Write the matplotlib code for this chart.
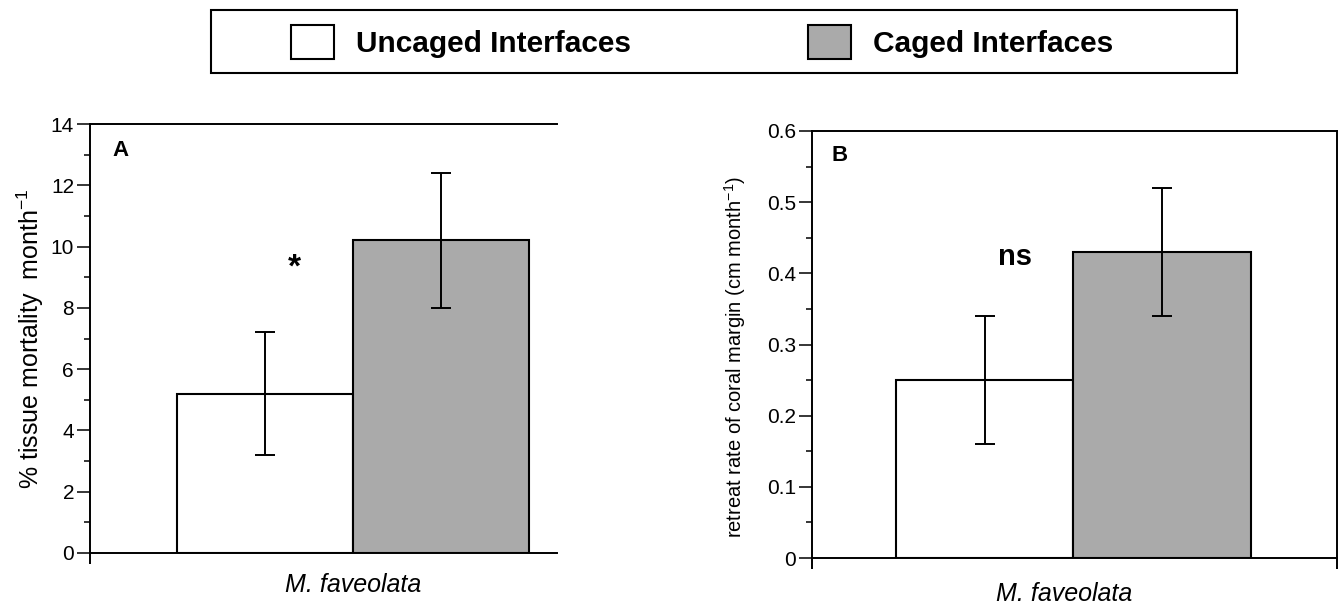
import matplotlib
matplotlib.use('Agg')
import matplotlib.pyplot as plt
from matplotlib import font_manager
from matplotlib.patches import Rectangle

plt.rcParams['font.family'] = ['Liberation Sans', 'DejaVu Sans']
plt.rcParams['mathtext.fontset'] = 'custom'
plt.rcParams['mathtext.rm'] = 'Liberation Sans'
plt.rcParams['mathtext.it'] = 'Liberation Sans:italic'
plt.rcParams['mathtext.bf'] = 'Liberation Sans:bold'

# data
groups = ['Uncaged Interfaces', 'Caged Interfaces']
species = 'M. faveolata'
mortality = [5.2, 10.2]
mortality_err = [2.0, 2.2]
retreat = [0.25, 0.43]
retreat_err = [0.09, 0.09]
bar_colors = ['white', '#aaaaaa']

W, H = 1339, 604
fig = plt.figure(figsize=(W / 100, H / 100), dpi=100)

axA = fig.add_axes([90 / W, 1 - 553 / H, 467 / W, (553 - 124) / H])
axB = fig.add_axes([812 / W, 1 - 558 / H, 525 / W, (558 - 131) / H])

xpos = [0, 1]

def draw_panel(ax, vals, errs, ymax, major, minor, xlim, ylabel, ylabel_size):
    bars = ax.bar(xpos, vals, width=1.0, color=bar_colors, edgecolor='black', linewidth=1.5, zorder=2)
    ax.errorbar(xpos, vals, yerr=errs, fmt='none', ecolor='black', elinewidth=1.4,
                capsize=7, capthick=1.4, zorder=3)
    ax.set_xlim(*xlim)
    ax.set_ylim(0, ymax)
    ax.set_yticks([i * major for i in range(int(round(ymax / major)) + 1)])
    ax.set_yticks([i * minor for i in range(int(round(ymax / minor)) + 1)], minor=True)
    ax.yaxis.set_major_formatter(matplotlib.ticker.FuncFormatter(lambda v, p: ('%g' % v)))
    ax.tick_params(axis='y', which='major', direction='out', length=9.5, width=1.1, labelsize=15, pad=2)
    ax.tick_params(axis='y', which='minor', direction='out', length=4.5, width=1.1)
    for s in ax.spines.values():
        s.set_linewidth(1.4)
    ax.set_ylabel(ylabel, fontsize=ylabel_size)
    return bars

# panel A
bars = draw_panel(axA, mortality, mortality_err, 14, 2, 1, (-0.994, 1.66),
                  '% tissue mortality  month$^{-1}$', 18)
axA.spines['right'].set_visible(False)
axA.set_xticks([-0.994])
axA.set_xticklabels([''])
axA.tick_params(axis='x', direction='out', length=8, width=1.4)
axA.set_xlabel(species, fontsize=18, style='italic', labelpad=3)
axA.xaxis.label.set_x((0.5 + 0.994) / (1.66 + 0.994))
axA.text(0.048, 0.963, 'A', transform=axA.transAxes, fontsize=16, fontweight='bold', va='top')
axA.text(0.17, 9.3, '*', fontsize=24, fontweight='bold', ha='center', va='center')
axA.yaxis.set_label_coords(-0.094, 0.5)

# panel B
draw_panel(axB, retreat, retreat_err, 0.6, 0.1, 0.05, (-0.973, 1.985),
           'retreat rate of coral margin (cm month$^{-1}$)', 14.5)
axB.set_xticks([-0.973, 1.985])
axB.set_xticklabels(['', ''])
axB.tick_params(axis='x', direction='out', length=8, width=1.4)
axB.set_xlabel(species, fontsize=18, style='italic', labelpad=6)
axB.xaxis.label.set_x(0.48)
axB.text(0.038, 0.967, 'B', transform=axB.transAxes, fontsize=16, fontweight='bold', va='top')
axB.text(0.17, 0.423, 'ns', fontsize=21, fontweight='bold', ha='center', va='center')
axB.yaxis.set_label_coords(-0.122, 0.47)

# legend
names = {f.name for f in font_manager.fontManager.ttflist}
if 'Liberation Sans Narrow' in names:
    leg_prop = {'family': 'Liberation Sans Narrow', 'weight': 'bold', 'size': 25}
else:
    leg_prop = {'family': 'Liberation Sans', 'weight': 'bold', 'size': 21.5}
fs_px = leg_prop['size'] * 100 / 72.0
fig.legend(bars, groups, ncol=2, frameon=False, loc='center',
           bbox_to_anchor=(702 / W, 1 - 42 / H), prop=leg_prop,
           handlelength=43 / fs_px, handleheight=41 / fs_px,
           handletextpad=22 / fs_px, columnspacing=177 / fs_px)
fig.add_artist(Rectangle((211 / W, 1 - 73 / H), 1026 / W, 63 / H, transform=fig.transFigure,
                         fill=False, edgecolor='black', linewidth=1.5))

fig.savefig('out.png', dpi=100)
